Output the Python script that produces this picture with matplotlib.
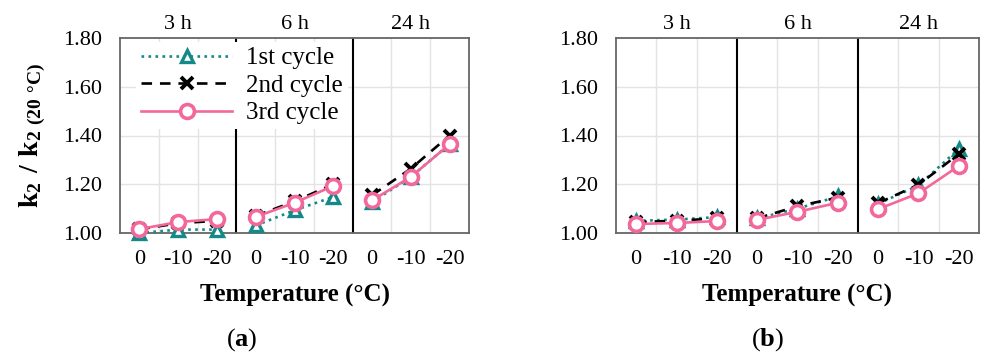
import matplotlib
matplotlib.use('Agg')
from matplotlib import pyplot as plt
from matplotlib.lines import Line2D
import matplotlib.transforms as mtransforms

plt.rcParams['font.family'] = ['Liberation Serif', 'DejaVu Serif']
plt.rcParams['mathtext.fontset'] = 'custom'
plt.rcParams['mathtext.rm'] = 'Liberation Serif'
plt.rcParams['mathtext.bf'] = 'Liberation Serif:bold'

# data
groups = ['3 h', '6 h', '24 h']
temps = ['0', '-10', '-20']

# panel (a)
a_cycle1 = [1.00, 1.014, 1.014, 1.031, 1.093, 1.148, 1.127, 1.230, 1.365]
a_cycle2 = [1.015, 1.04, 1.05, 1.07, 1.13, 1.20, 1.155, 1.264, 1.40]
a_cycle3 = [1.016, 1.045, 1.057, 1.066, 1.124, 1.193, 1.134, 1.230, 1.364]

# panel (b)
b_cycle1 = [1.05, 1.055, 1.065, 1.06, 1.10, 1.15, 1.12, 1.195, 1.345]
b_cycle2 = [1.045, 1.05, 1.06, 1.06, 1.11, 1.145, 1.123, 1.198, 1.324]
b_cycle3 = [1.037, 1.041, 1.049, 1.054, 1.087, 1.124, 1.098, 1.163, 1.275]

teal = '#14898a'
pink = '#f2689a'

styles = [
    dict(color=teal, ls=':', lw=1.9, marker='^', ms=8, mfc='white', mec=teal, mew=2.4, label='1st cycle'),
    dict(color='black', ls=(0, (4, 3)), lw=1.9, marker='x', ms=8.5, mec='black', mew=2.8, label='2nd cycle'),
    dict(color=pink, ls='-', lw=1.9, marker='o', ms=10, mfc='white', mec=pink, mew=2.6, label='3rd cycle'),
]


def draw_panel(ax, series, letter, letter_x):
    n = len(groups) * len(temps)
    ax.set_xlim(-0.5, n - 0.5)
    ax.set_ylim(1.0, 1.8)
    # light grid
    for b in range(1, n):
        if b % 3 == 0:
            ax.axvline(b - 0.5, color='black', lw=1.5, zorder=2)
        else:
            ax.axvline(b - 0.5, color='#e3e3e3', lw=1.0, zorder=0)
    for yv in [1.2, 1.4, 1.6]:
        ax.axhline(yv, color='#e3e3e3', lw=1.0, zorder=0)
    for i, (vals, st) in enumerate(zip(series, styles)):
        for g in range(len(groups)):
            xs = list(range(g * 3, g * 3 + 3))
            ax.plot(xs, vals[g * 3:g * 3 + 3], zorder=3 + i, clip_on=False,
                    **{k: v for k, v in st.items() if k != 'label'})
    ax.set_xticks(range(n))
    ax.set_xticklabels(temps * len(groups))
    ax.set_yticks([1.0, 1.2, 1.4, 1.6, 1.8])
    ax.set_yticklabels(['%.2f' % v for v in [1.0, 1.2, 1.4, 1.6, 1.8]])
    ax.tick_params(length=0, labelsize=16)
    ax.tick_params(axis='y', pad=13)
    ax.tick_params(axis='x', pad=12)
    for s in ax.spines.values():
        s.set_color('#666666')
        s.set_linewidth(1.3)
    trans = mtransforms.blended_transform_factory(ax.transData, ax.transAxes)
    for g, name in enumerate(groups):
        ax.text(g * 3 + 1, 1.07, name, transform=trans, ha='center', va='center', fontsize=16)
    ax.set_xlabel('Temperature (°C)', fontsize=18, fontweight='bold', labelpad=11)
    fig.text(letter_x / 982, 1 - 340 / 358, '(' + r'$\mathbf{' + letter + '}$' + ')',
             ha='center', va='center', fontsize=19)


fig = plt.figure(figsize=(9.82, 3.58), dpi=100)
ax1 = fig.add_axes([120 / 982, 125 / 358, 349 / 982, 195 / 358])
ax2 = fig.add_axes([616 / 982, 125 / 358, 363 / 982, 195 / 358])

draw_panel(ax1, [a_cycle1, a_cycle2, a_cycle3], 'a', 242)
draw_panel(ax2, [b_cycle1, b_cycle2, b_cycle3], 'b', 768)

ax1.set_ylabel(r'$\mathbf{k_2\ /\ k_{2\ (20\ °C)}}$', fontsize=20, labelpad=11)

handles = [Line2D([0], [0], **st) for st in styles]
leg = ax1.legend(handles=handles, loc='upper left', bbox_to_anchor=(0.035, 1.0), fontsize=18,
                 frameon=True, framealpha=1, facecolor='white', edgecolor='none',
                 handlelength=3.65, handletextpad=0.55, labelspacing=0.2, borderpad=0.2,
                 borderaxespad=0.15, fancybox=False)
leg.set_zorder(10)

fig.savefig('out.png', dpi=100)
